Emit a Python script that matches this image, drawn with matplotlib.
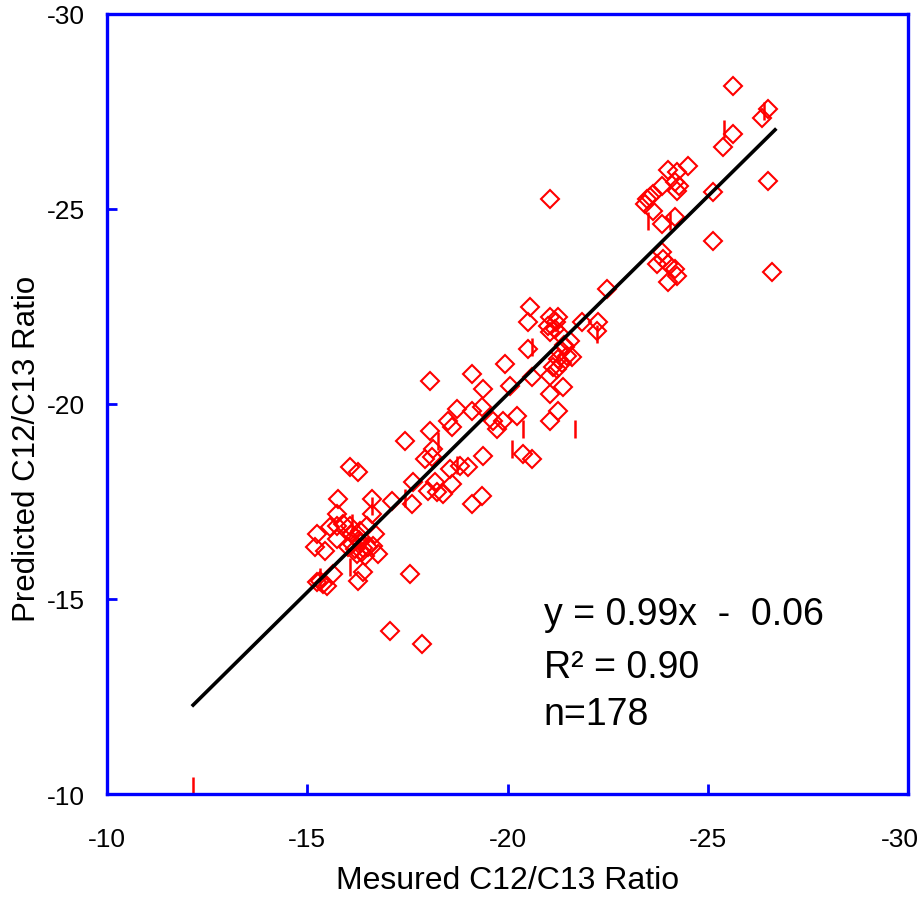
import matplotlib.pyplot as plt
from matplotlib.transforms import ScaledTranslation

plt.rcParams['font.family'] = ['Liberation Sans', 'DejaVu Sans']
plt.rcParams['axes.unicode_minus'] = False

# measured vs predicted values, diamond markers
measured = [
    -25.63, -26.50, -26.35, -25.63, -25.38, -26.50, -26.60, -25.13, -25.13, -24.01,
    -24.23, -24.51, -24.18, -24.23, -23.86, -23.63, -23.48, -23.43, -23.63, -23.86,
    -24.18, -23.86, -23.73, -24.01, -24.18, -24.23, -24.01, -23.88, -24.28, -23.55,
    -22.48, -22.26, -22.23, -21.86, -20.56, -20.51, -21.06, -21.26, -21.01, -21.19,
    -21.06, -21.31, -21.56, -21.44, -21.31, -21.49, -21.61, -21.26, -21.14, -21.06,
    -21.24, -20.51, -19.94, -20.06, -20.61, -21.06, -21.39, -21.26, -21.06, -20.24,
    -19.89, -21.06, -20.39, -20.61, -21.40, -21.35, -21.20,
    -19.11, -18.06, -19.39, -18.74, -19.11, -19.36, -18.51, -18.61, -18.06, -19.64,
    -19.74, -17.44, -18.14, -18.11, -17.94, -19.39, -18.56, -18.81, -19.01, -17.64,
    -18.19, -18.01, -18.24, -18.39, -18.61, -17.12, -19.36, -19.11,
    -16.07, -16.27, -15.77, -16.62, -17.62, -15.74, -16.62, -15.57, -15.74, -15.89,
    -16.07, -16.49, -16.69, -15.24, -15.74, -16.12, -16.32, -15.19, -15.44, -16.02,
    -16.19, -16.37, -16.52, -16.64, -16.77, -16.32, -16.12, -16.44, -16.24, -15.32,
    -15.39, -15.49, -15.24, -15.64, -16.39, -16.27, -17.57, -17.07, -17.87, -16.30,
    -16.20, -16.40,
]
predicted = [
    -28.15, -27.56, -27.33, -26.92, -26.59, -25.72, -23.38, -24.18, -25.44, -26.00,
    -25.95, -26.10, -25.69, -25.46, -25.59, -25.38, -25.26, -25.13, -24.95, -24.62,
    -24.79, -23.90, -23.59, -23.59, -23.46, -23.28, -23.13, -23.72, -25.60, -25.30,
    -22.95, -22.10, -21.87, -22.10, -22.49, -22.10, -22.23, -22.23, -22.00, -21.92,
    -21.85, -21.79, -21.62, -21.46, -21.33, -21.23, -21.21, -21.15, -20.95, -20.72,
    -20.90, -21.41, -21.03, -20.46, -20.69, -20.26, -20.44, -19.82, -19.56, -19.69,
    -19.56, -25.26, -18.72, -18.59, -21.50, -21.05, -22.10,
    -20.77, -20.59, -20.38, -19.87, -19.82, -19.92, -19.56, -19.41, -19.31, -19.56,
    -19.36, -19.05, -18.85, -18.64, -18.59, -18.67, -18.33, -18.41, -18.38, -18.00,
    -18.00, -17.77, -17.74, -17.69, -17.95, -17.51, -17.64, -17.44,
    -18.38, -18.26, -17.56, -17.56, -17.44, -17.18, -17.18, -16.85, -16.87, -16.92,
    -16.87, -16.87, -16.67, -16.67, -16.54, -16.67, -16.74, -16.33, -16.23, -16.33,
    -16.28, -16.21, -16.33, -16.36, -16.15, -16.46, -16.41, -16.10, -16.15, -15.46,
    -15.38, -15.33, -15.44, -15.64, -15.69, -15.46, -15.64, -14.18, -13.85, -16.50,
    -16.60, -16.30,
]

# points drawn as vertical ticks
tick_measured = [-25.41, -26.40, -23.51, -24.06, -20.61, -22.23, -20.39, -21.69, -20.11,
                 -18.26, -18.74, -16.12, -16.62, -17.44, -16.07, -15.32, -12.15]
tick_predicted = [-27.05, -27.50, -24.69, -24.69, -21.46, -21.79, -19.36, -19.36, -18.85,
                  -19.05, -18.44, -16.95, -17.38, -17.59, -15.82, -15.56, -10.20]

# regression line end points
fit_x = [-12.15, -26.68]
fit_y = [-12.28, -27.03]

ticks = [-10, -15, -20, -25, -30]
tick_labels = ['-10', '-15', '-20', '-25', '-30']

fig = plt.figure(figsize=(9.24, 9.03), dpi=100)
ax = fig.add_axes([0.1158, 0.1196, 0.8669, 0.8638])

ax.plot(measured, predicted, linestyle='none', marker='D', markersize=9,
        markerfacecolor='none', markeredgecolor='red', markeredgewidth=1.5)
ax.plot(tick_measured, tick_predicted, linestyle='none', marker='|', markersize=13,
        markeredgecolor='red', markeredgewidth=1.8)
ax.plot(fit_x, fit_y, color='black', linewidth=2.6)

ax.set_xlim(-10, -30)
ax.set_ylim(-10, -30)
ax.set_xticks(ticks)
ax.set_yticks(ticks)
ax.set_xticklabels(tick_labels)
ax.set_yticklabels(tick_labels)

for s in ax.spines.values():
    s.set_color('blue')
    s.set_linewidth(2.4)
ax.tick_params(axis='both', direction='in', color='blue', length=7, width=2,
               labelsize=19)
ax.tick_params(axis='x', pad=24)
ax.tick_params(axis='y', pad=16)

# keep the last x label inside the figure
last = ax.get_xticklabels()[-1]
last.set_transform(last.get_transform() + ScaledTranslation(-0.08, 0, fig.dpi_scale_trans))

ax.set_xlabel('Mesured C12/C13 Ratio', fontsize=23, labelpad=10)
ax.set_ylabel('Predicted C12/C13 Ratio', fontsize=22.5)
ax.yaxis.set_label_coords(-0.081, 0.444)

ax.text(0.545, 0.218, 'y = 0.99x  -  0.06', transform=ax.transAxes, fontsize=27)
ax.text(0.545, 0.150, 'R² = 0.90', transform=ax.transAxes, fontsize=27)
ax.text(0.545, 0.090, 'n=178', transform=ax.transAxes, fontsize=27)

fig.savefig('out.png', dpi=100)
